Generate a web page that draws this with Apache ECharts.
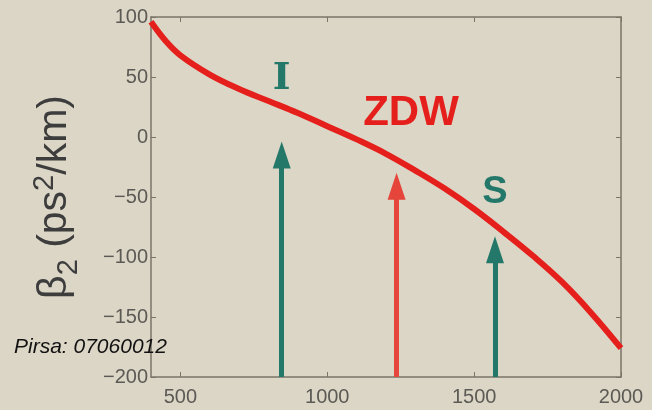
<!DOCTYPE html>
<html>
<head>
<meta charset="utf-8">
<script src="https://cdn.jsdelivr.net/npm/echarts@6/dist/echarts.min.js"></script>
<style>
  html, body { margin: 0; padding: 0; background: #dcd6c6; }
  #chart { width: 652px; height: 410px; }
</style>
</head>
<body>
<div id="chart"></div>
<script>
// Wavelength (nm) and group-velocity dispersion beta2 (ps^2/km)
const wavelength = [400, 450, 500, 600, 700, 800, 900, 1000, 1100, 1200, 1300, 1400, 1500, 1600, 1700, 1800, 1900, 2000];
const beta2      = [96,  80,  68,  52,  40,  30,  20,  9,    -2,   -14,  -28,  -43,  -60,  -79,  -99,  -121, -147, -176];

// Marker arrows: wavelength, head position (beta2), colour key
const arrowX    = [845, 1236, 1571];
const arrowHead = [-15, -41, -94];
const arrowKind = ['idler', 'zdw', 'signal'];

// Text annotations placed in data coordinates
const noteText = ['I', 'ZDW', 'S'];
const noteX    = [845, 1285, 1571];
const noteY    = [48, 20, -46];

const xTicks = [500, 1000, 1500, 2000];

const teal = '#24786a';
const red = '#e5201c';
const arrowRed = '#e5453a';

const chart = echarts.init(document.getElementById('chart'), null, { renderer: 'canvas' });

const frame = '#7b7569';
const sans = 'Liberation Sans, Arial, sans-serif';
const tickLabel = { color: '#5c5a55', fontFamily: sans, fontSize: 20 };

const arrowLines = arrowX.map((x, i) => {
  const c = arrowKind[i] === 'zdw' ? arrowRed : teal;
  return [
    { coord: [x, -200], symbol: 'none', lineStyle: { color: c, width: 5, type: 'solid' } },
    { coord: [x, arrowHead[i]], symbol: 'triangle', symbolSize: [18, 27], itemStyle: { color: c } }
  ];
});

const nameStyle = { fontFamily: sans, color: '#3d3d3d', lineHeight: 50, verticalAlign: 'bottom' };

chart.setOption({
  backgroundColor: '#dcd6c6',
  animation: false,
  grid: { left: 151, right: 31, top: 17, bottom: 33 },
  xAxis: [{
    type: 'value', min: 400, max: 2000,
    axisLine: { show: true, onZero: false, lineStyle: { color: frame, width: 1.5 } },
    axisTick: { show: true, inside: true, length: 5, customValues: xTicks, lineStyle: { color: frame } },
    axisLabel: Object.assign({ margin: 10, customValues: xTicks, formatter: v => String(v) }, tickLabel),
    splitLine: { show: false }
  }, {
    type: 'value', min: 400, max: 2000, position: 'top',
    axisLine: { show: true, onZero: false, lineStyle: { color: frame, width: 1.5 } },
    axisTick: { show: true, inside: true, length: 5, customValues: xTicks, lineStyle: { color: frame } },
    axisLabel: { show: false },
    splitLine: { show: false }
  }],
  yAxis: [{
    type: 'value', min: -200, max: 100, interval: 50,
    axisLine: { show: true, onZero: false, lineStyle: { color: frame, width: 1.5 } },
    axisTick: { show: true, inside: true, length: 5, lineStyle: { color: frame } },
    axisLabel: Object.assign({ margin: 3, formatter: v => String(v).replace('-', '\u2212') }, tickLabel),
    splitLine: { show: false },
    name: '{b|\u03b2}{sub|2}{b|\u00a0(ps}{sup|2}{b|/km)}',
    nameLocation: 'middle',
    nameRotate: 90,
    nameGap: 76,
    nameTextStyle: {
      rich: {
        b:   Object.assign({ fontSize: 41 }, nameStyle),
        sub: Object.assign({ fontSize: 29, padding: [0, 0, -8, 0] }, nameStyle),
        sup: Object.assign({ fontSize: 29, padding: [0, 0, 16, 0] }, nameStyle)
      }
    }
  }, {
    type: 'value', min: -200, max: 100, interval: 50, position: 'right',
    axisLine: { show: true, onZero: false, lineStyle: { color: frame, width: 1.5 } },
    axisTick: { show: true, inside: true, length: 5, lineStyle: { color: frame } },
    axisLabel: { show: false },
    splitLine: { show: false }
  }],
  series: [{
    type: 'line',
    data: wavelength.map((w, i) => [w, beta2[i]]),
    smooth: 0.4,
    showSymbol: false,
    lineStyle: { color: red, width: 6 },
    z: 3
  }, {
    type: 'line',
    data: [],
    z: 2,
    markLine: {
      silent: true,
      animation: false,
      label: { show: false },
      data: arrowLines
    }
  }]
});

function placeNotes() {
  const els = noteText.map((t, i) => {
    const p = chart.convertToPixel({ xAxisIndex: 0, yAxisIndex: 0 }, [noteX[i], noteY[i]]);
    let font = 'bold 38px "Liberation Sans", Arial, sans-serif';
    if (t === 'I') font = 'bold 38px "DejaVu Serif", serif';
    if (t === 'ZDW') font = 'bold 42px "Liberation Sans", Arial, sans-serif';
    return {
      type: 'text',
      x: p[0], y: p[1],
      style: {
        text: t,
        fill: t === 'ZDW' ? red : teal,
        font: font,
        align: 'center',
        verticalAlign: 'middle'
      },
      z: 10
    };
  });
  els.push({
    type: 'text',
    left: 14, top: 337,
    style: {
      text: 'Pirsa: 07060012',
      fill: '#111',
      font: 'italic 21px "Liberation Sans", Arial, sans-serif'
    },
    z: 10
  });
  chart.setOption({ graphic: els });
}
placeNotes();
</script>
</body>
</html>
